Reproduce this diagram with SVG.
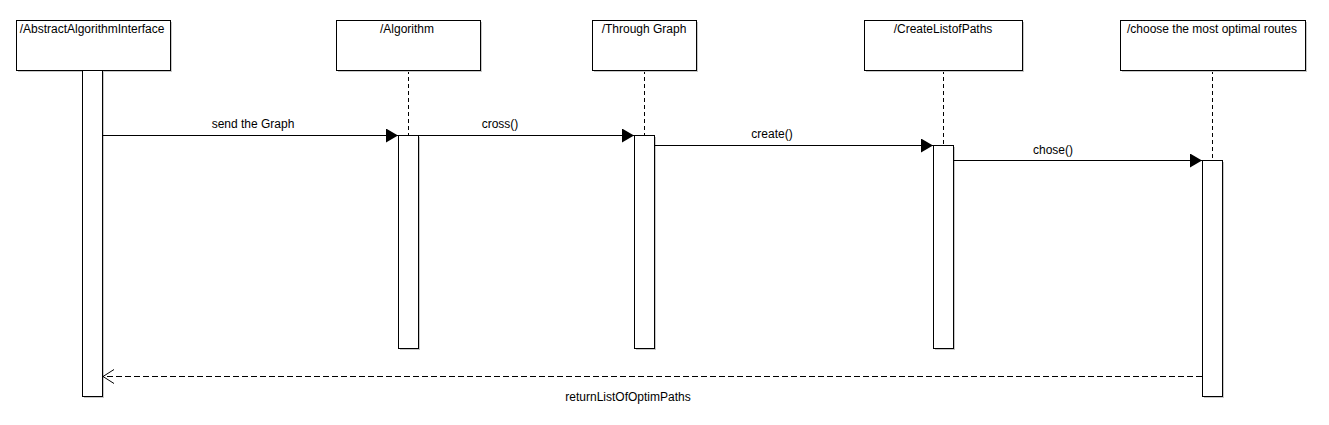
<svg xmlns="http://www.w3.org/2000/svg" width="1329" height="425" viewBox="0 0 1329 425">
<style>
text{font-family:"Liberation Sans",Arial,sans-serif;font-size:12px;fill:#000}
.box{fill:#fff;stroke:#000;stroke-width:1}
.sh{fill:#c8c8c8;stroke:none}
.life{stroke:#000;stroke-width:1;stroke-dasharray:4,3;fill:none}
.msg{stroke:#000;stroke-width:1;fill:none}
.ret{stroke:#000;stroke-width:1;stroke-dasharray:6,3;fill:none}
</style>
<defs>
<marker id="fill" markerUnits="userSpaceOnUse" markerWidth="13" markerHeight="15" refX="12" refY="7" orient="auto">
<path d="M0,0 L12,7 L0,14 Z" fill="#000"/>
</marker>
<marker id="open" markerUnits="userSpaceOnUse" markerWidth="12" markerHeight="16" refX="11" refY="7.5" orient="auto">
<path d="M0,0.5 L11,7.5 L0,14.5" fill="none" stroke="#000" stroke-width="1"/>
</marker>
</defs>
<g id="lifelines">
<line class="life" x1="408.5" y1="70" x2="408.5" y2="135"/>
<line class="life" x1="644.5" y1="70" x2="644.5" y2="135"/>
<line class="life" x1="943.5" y1="70" x2="943.5" y2="145"/>
<line class="life" x1="1212.5" y1="70" x2="1212.5" y2="160"/>
</g>
<g id="n1">
<rect class="sh" x="18" y="22" width="154" height="50"/>
<rect class="box" x="16.5" y="20.5" width="154" height="50"/>
<text x="92" y="33" text-anchor="middle">/AbstractAlgorithmInterface</text>
<rect class="sh" x="84" y="72" width="20" height="326"/>
<rect class="box" x="82.5" y="70.5" width="20" height="326"/>
</g>
<g id="n2">
<rect class="sh" x="338" y="22" width="144" height="50"/>
<rect class="box" x="336.5" y="20.5" width="144" height="50"/>
<text x="407" y="33" text-anchor="middle">/Algorithm</text>
<rect class="sh" x="400" y="137" width="20" height="213"/>
<rect class="box" x="398.5" y="135.5" width="20" height="213"/>
</g>
<g id="n3">
<rect class="sh" x="594" y="22" width="104" height="50"/>
<rect class="box" x="592.5" y="20.5" width="104" height="50"/>
<text x="644" y="33" text-anchor="middle">/Through Graph</text>
<rect class="sh" x="636" y="137" width="20" height="213"/>
<rect class="box" x="634.5" y="135.5" width="20" height="213"/>
</g>
<g id="n4">
<rect class="sh" x="866" y="22" width="158" height="50"/>
<rect class="box" x="864.5" y="20.5" width="158" height="50"/>
<text x="943" y="33" text-anchor="middle">/CreateListofPaths</text>
<rect class="sh" x="935" y="147" width="20" height="203"/>
<rect class="box" x="933.5" y="145.5" width="20" height="203"/>
</g>
<g id="n5">
<rect class="sh" x="1122" y="22" width="185" height="50"/>
<rect class="box" x="1120.5" y="20.5" width="185" height="50"/>
<text x="1212" y="33" text-anchor="middle">/choose the most optimal routes</text>
<rect class="sh" x="1204" y="162" width="20" height="236"/>
<rect class="box" x="1202.5" y="160.5" width="20" height="236"/>
</g>
<g id="connectors">
<line class="msg" x1="103" y1="135.5" x2="398" y2="135.5" marker-end="url(#fill)"/>
<text x="253" y="128" text-anchor="middle">send the Graph</text>
<line class="msg" x1="419" y1="135.5" x2="634" y2="135.5" marker-end="url(#fill)"/>
<text x="500" y="128" text-anchor="middle">cross()</text>
<line class="msg" x1="655" y1="145.5" x2="933" y2="145.5" marker-end="url(#fill)"/>
<text x="772" y="138" text-anchor="middle">create()</text>
<line class="msg" x1="954" y1="160.5" x2="1202" y2="160.5" marker-end="url(#fill)"/>
<text x="1053" y="154" text-anchor="middle">chose()</text>
<line class="ret" x1="1202" y1="376.5" x2="103" y2="376.5" marker-end="url(#open)"/>
<text x="628" y="401" text-anchor="middle">returnListOfOptimPaths</text>
</g>
</svg>
